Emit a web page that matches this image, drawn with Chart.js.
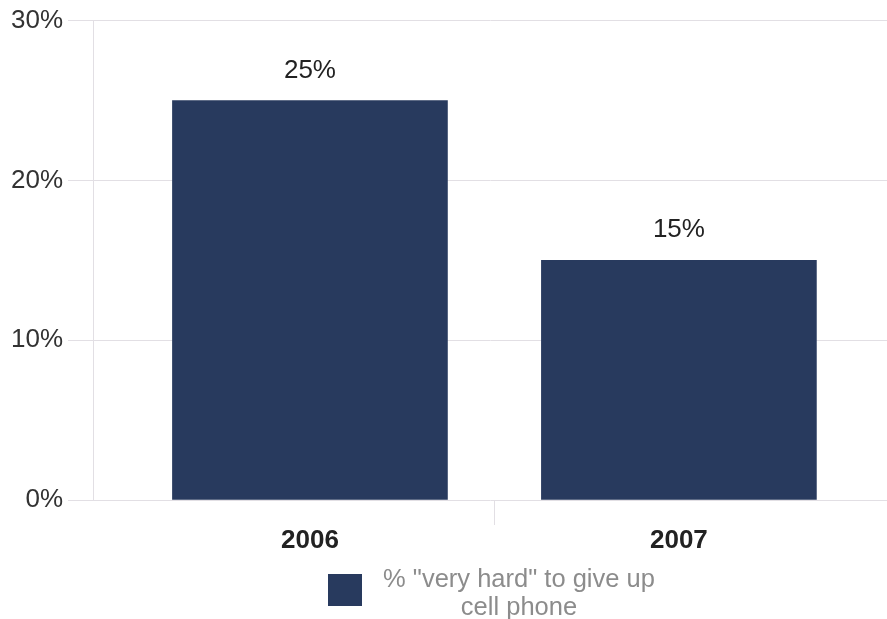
<!DOCTYPE html>
<html lang="en">
<head>
    <meta charset="UTF-8">
    <title>Very hard to give up cell phone</title>
    <script src="https://cdn.jsdelivr.net/npm/chart.js"></script>
    <style>
        body { margin: 0; background: #fff; }
        #wrap { position: relative; width: 887px; height: 619px; }
        #leyenda { position: absolute; left: 0; top: 0; width: 887px; height: 619px; pointer-events: none;
                   font-family: "Liberation Sans", Arial, sans-serif; }
        #leyenda .caja { position: absolute; left: 328px; top: 574px; width: 34px; height: 32px; background: #283a5e; }
        #leyenda .texto { position: absolute; left: 362px; top: 564px; width: 314px; text-align: center;
                          font-size: 25.5px; line-height: 28px; color: #8c8c8c; }
    </style>
</head>
<body>
<div id="wrap">
    <canvas id="grafica" width="887" height="619"></canvas>
    <div id="leyenda">
        <div class="caja"></div>
        <div class="texto" id="leyendaTexto"></div>
    </div>
</div>
<script>
// datos
const anios = [2006, 2007];
const valores = [25, 15];
const serieNombre = '% "very hard" to give up cell phone';
const ticksY = [0, 10, 20, 30];

const colorBarra = '#283a5e';
const colorRejilla = '#e2dfe4';

document.getElementById('leyendaTexto').innerHTML = '% "very hard" to give up<br>cell phone';

// etiquetas de valor encima de las barras
const etiquetasValor = {
    id: 'etiquetasValor',
    afterDatasetsDraw(chart) {
        const ctx = chart.ctx;
        const meta = chart.getDatasetMeta(0);
        ctx.save();
        ctx.font = '26px "Liberation Sans", Arial, sans-serif';
        ctx.fillStyle = '#222';
        ctx.textAlign = 'center';
        ctx.textBaseline = 'middle';
        meta.data.forEach((bar, i) => {
            ctx.fillText(valores[i] + '%', bar.x, bar.y - 30);
        });
        ctx.restore();
    }
};

const ctx = document.getElementById('grafica').getContext('2d');
new Chart(ctx, {
    type: 'bar',
    data: {
        datasets: [{
            label: serieNombre,
            data: anios.map((a, i) => ({ x: a, y: valores[i] })),
            backgroundColor: colorBarra,
            borderWidth: 0,
            barThickness: 275
        }]
    },
    options: {
        responsive: false,
        animation: false,
        layout: { padding: { top: 2, right: 0, bottom: 59, left: 0 } },
        plugins: {
            legend: { display: false },
            tooltip: { enabled: false }
        },
        scales: {
            x: {
                type: 'linear',
                offset: false,
                min: 2005.412,
                max: 2007.564,
                afterBuildTicks: (scale) => {
                    scale.ticks = [{ value: anios[0] }, { value: (anios[0] + anios[1]) / 2 }, { value: anios[1] }];
                },
                afterFit: (scale) => { scale.height = 60; },
                border: { display: false },
                grid: {
                    offset: false,
                    drawOnChartArea: false,
                    tickLength: 25,
                    color: (c) => (c.tick && anios.includes(c.tick.value)) ? 'rgba(0,0,0,0)' : colorRejilla
                },
                ticks: {
                    autoSkip: false,
                    maxRotation: 0,
                    padding: 0,
                    color: '#222',
                    font: { family: '"Liberation Sans", Arial, sans-serif', size: 26, weight: 'bold' },
                    callback: (v) => anios.includes(v) ? String(v) : ''
                }
            },
            y: {
                min: 0,
                max: 30,
                afterBuildTicks: (scale) => { scale.ticks = ticksY.map(v => ({ value: v })); },
                afterFit: (scale) => { scale.width = 93; },
                border: { display: true, color: colorRejilla, width: 1 },
                grid: { color: colorRejilla, tickLength: 25, lineWidth: 1 },
                ticks: {
                    padding: 5,
                    color: '#333',
                    font: { family: '"Liberation Sans", Arial, sans-serif', size: 26 },
                    callback: (v) => v + '%'
                }
            }
        }
    },
    plugins: [etiquetasValor]
});
</script>
</body>
</html>
